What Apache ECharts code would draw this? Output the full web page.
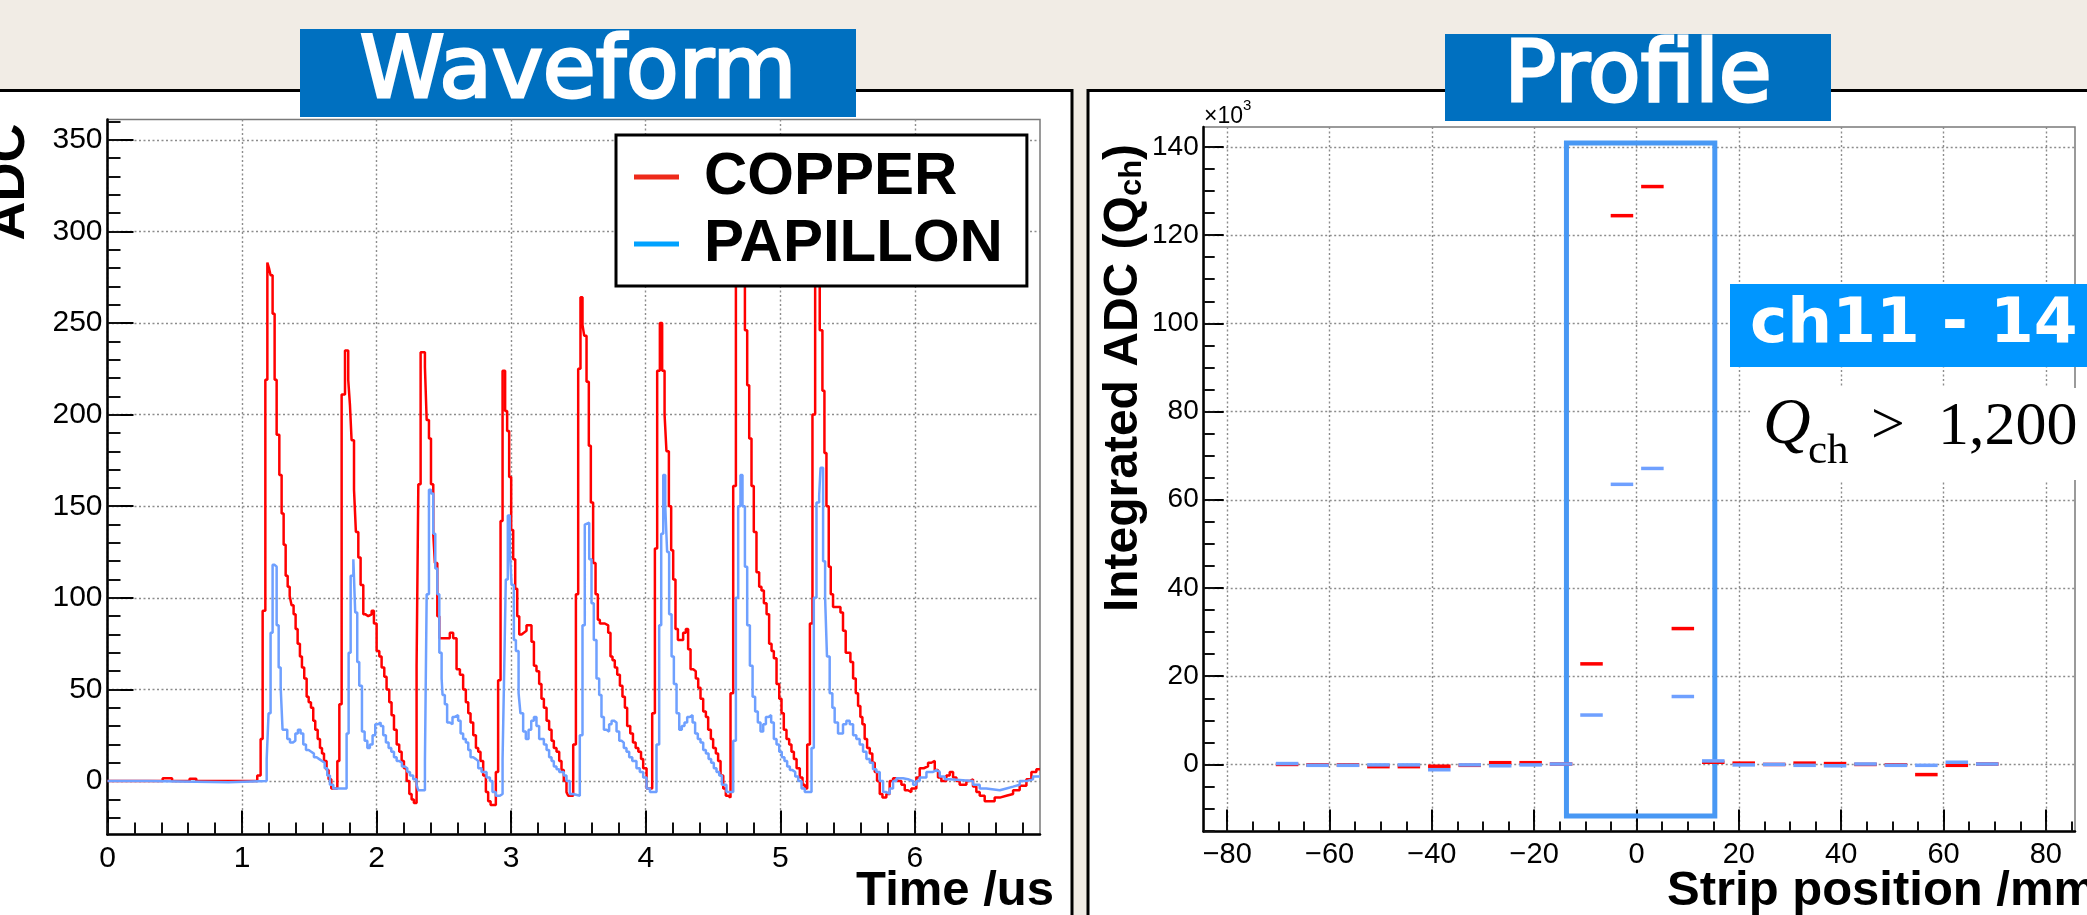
<!DOCTYPE html>
<html>
<head>
<meta charset="utf-8">
<title>Waveform / Profile</title>
<script src="https://cdn.jsdelivr.net/npm/echarts@6/dist/echarts.min.js"></script>
<style>
  html, body { margin: 0; padding: 0; background: #f1ece5; }
  #main { width: 2087px; height: 915px; }
</style>
</head>
<body>
<div id="main"></div>
<script>
// ---- Waveform: start time (us) of each step and its ADC value ----
var copperT = [0, 0.41, 0.48, 0.61, 0.66,
  1.113, 1.138, 1.153, 1.173, 1.188, 1.200, 1.212, 1.227, 1.242, 1.257, 1.277, 1.294, 1.309, 1.324, 1.339, 1.354, 1.368, 1.383, 1.398, 1.413, 1.430, 1.445, 1.462, 1.480, 1.495, 1.512, 1.529, 1.544, 1.562, 1.579, 1.594, 1.609, 1.628, 1.643, 1.663,
  1.708, 1.723, 1.740, 1.765, 1.789, 1.802, 1.814, 1.832, 1.846, 1.864, 1.881, 1.901, 1.918, 1.938, 1.963, 1.980, 2.000, 2.020, 2.037, 2.057, 2.074, 2.094, 2.111, 2.129, 2.149, 2.168, 2.186, 2.203, 2.223, 2.243, 2.260, 2.277,
  2.297, 2.310, 2.327, 2.359, 2.372, 2.389, 2.404, 2.421, 2.433, 2.451, 2.466, 2.544, 2.569, 2.594, 2.619, 2.643, 2.663, 2.681, 2.698, 2.718, 2.738, 2.755, 2.772, 2.792, 2.812, 2.829, 2.847,
  2.886, 2.903, 2.921, 2.936, 2.955, 2.970, 2.985, 3.000, 3.015, 3.030, 3.045, 3.060, 3.077, 3.094, 3.114, 3.151, 3.169, 3.188, 3.208, 3.225, 3.243, 3.263, 3.282, 3.300, 3.317, 3.337, 3.357, 3.374, 3.391, 3.411, 3.424,
  3.461, 3.481, 3.498, 3.515, 3.530, 3.543, 3.560, 3.577, 3.592, 3.609, 3.627, 3.644, 3.659, 3.696, 3.721, 3.738, 3.753, 3.770, 3.788, 3.808, 3.827, 3.845, 3.862, 3.885, 3.905, 3.925, 3.945, 3.965, 3.981, 4.006,
  4.048, 4.068, 4.085, 4.105, 4.122, 4.140, 4.154, 4.172, 4.189, 4.204, 4.221, 4.239, 4.278, 4.298, 4.315, 4.333, 4.353, 4.372, 4.390, 4.407, 4.427, 4.447, 4.464, 4.484, 4.501, 4.521, 4.538, 4.556, 4.576, 4.595, 4.613,
  4.630, 4.650, 4.670, 4.687, 4.704, 4.719, 4.737, 4.754, 4.769, 4.786, 4.803, 4.823, 4.843, 4.860, 4.878, 4.898, 4.917, 4.935, 4.952, 4.972, 4.992, 5.009, 5.026, 5.046, 5.066, 5.083, 5.101, 5.121, 5.145, 5.165, 5.182,
  5.200, 5.220, 5.239, 5.259, 5.277, 5.293, 5.313, 5.328, 5.343, 5.360, 5.375, 5.392, 5.447, 5.466, 5.486, 5.521, 5.541, 5.561, 5.578, 5.595, 5.610, 5.627, 5.645, 5.665, 5.684, 5.702, 5.719, 5.739, 5.759, 5.788,
  5.813, 5.838, 5.868, 5.900, 5.925, 5.949, 5.974, 6.011, 6.036, 6.066, 6.098, 6.123, 6.148, 6.172, 6.197, 6.234, 6.259, 6.284, 6.309, 6.333, 6.383, 6.408, 6.432, 6.457, 6.482, 6.519, 6.593, 6.631, 6.680, 6.730, 6.779, 6.829, 6.866, 6.903, 6.93];
var copperV = [0, 1.5, 0, 1.3, 0,
  3, 23, 93, 219, 283, 280, 276, 255, 219, 189, 167, 146, 129, 112, 106, 101, 96, 91, 83, 75, 68, 62, 56, 46, 43, 40, 33, 28, 23, 18, 15, 11, 6, 1, -4,
  11, 42, 211, 235, 219, 205, 186, 159, 136, 122, 107, 91, 90, 91, 93, 86, 71, 68, 62, 57, 50, 43, 36, 28, 20, 16, 11, 7, 0, -7, -10, -12,
  63, 162, 234, 226, 197, 187, 162, 135, 119, 90, 78, 81, 78, 61, 58, 50, 43, 37, 32, 25, 18, 16, 11, 3, -6, -11, -13,
  5, 55, 142, 224, 202, 191, 166, 137, 121, 105, 90, 80, 81, 82, 85, 76, 63, 60, 53, 45, 40, 33, 28, 22, 18, 16, 11, 6, 0, -6, -8,
  20, 102, 225, 264, 249, 243, 218, 183, 152, 119, 102, 88, 86, 85, 81, 68, 66, 62, 58, 52, 46, 40, 30, 26, 21, 18, 16, 12, 7, -4,
  37, 127, 224, 250, 224, 200, 180, 150, 126, 110, 83, 77, 81, 83, 72, 61, 60, 56, 51, 45, 38, 35, 28, 23, 18, 15, 11, 3, -4, -8, -9,
  48, 161, 285, 302, 296, 278, 246, 216, 187, 161, 136, 114, 106, 104, 97, 91, 75, 71, 67, 53, 45, 37, 28, 23, 20, 16, 12, 7, 2, -2, -4,
  20, 86, 200, 290, 282, 246, 213, 179, 150, 117, 102, 95, 92, 82, 70, 65, 56, 48, 41, 35, 31, 23, 18, 15, 10, 5, 0, -7, -9, -7,
  0, 1.5, 0, -2, -5, -6, -4, 2, 7, 8, 10, 11, 6, 2, 0, 3, 5, 2, 0, -2, 0, 1, -3, -6, -8, -11, -9, -8, -7, -5, -2.5, 1, 5, 6.5, 6.5];

var papillonT = [0, 0.3, 0.9,
  1.183, 1.197, 1.212, 1.227, 1.242, 1.257, 1.272, 1.287, 1.301, 1.336, 1.356, 1.376, 1.396, 1.415, 1.435, 1.455, 1.475, 1.495, 1.514, 1.534, 1.554, 1.574, 1.594, 1.614, 1.633, 1.653, 1.678,
  1.777, 1.792, 1.807, 1.827, 1.841, 1.856, 1.871, 1.891, 1.911, 1.931, 1.950, 1.970, 1.990, 2.010, 2.030, 2.049, 2.069, 2.089, 2.109, 2.129, 2.149, 2.168, 2.188, 2.208, 2.228, 2.248, 2.272, 2.297, 2.310,
  2.359, 2.372, 2.389, 2.404, 2.421, 2.436, 2.451, 2.466, 2.483, 2.490, 2.507, 2.524, 2.544, 2.564, 2.581, 2.606, 2.624, 2.643, 2.663, 2.681, 2.698, 2.718, 2.738, 2.755, 2.780, 2.817, 2.842, 2.861, 2.886, 2.916,
  2.936, 2.946, 2.960, 2.975, 2.990, 3.003, 3.020, 3.035, 3.055, 3.069, 3.089, 3.109, 3.129, 3.149, 3.169, 3.188, 3.208, 3.243, 3.263, 3.282, 3.300, 3.317, 3.337, 3.357, 3.391, 3.411, 3.436, 3.461,
  3.510, 3.530, 3.547, 3.560, 3.580, 3.597, 3.614, 3.634, 3.654, 3.671, 3.689, 3.709, 3.728, 3.746, 3.763, 3.783, 3.803, 3.820, 3.837, 3.857, 3.877, 3.900, 3.931, 3.956, 3.981, 4.006, 4.031,
  4.080, 4.100, 4.115, 4.130, 4.145, 4.159, 4.174, 4.192, 4.209, 4.229, 4.249, 4.268, 4.288, 4.308, 4.328, 4.348, 4.367, 4.387, 4.407, 4.427, 4.447, 4.467, 4.486, 4.506, 4.526, 4.546, 4.566, 4.600,
  4.650, 4.670, 4.687, 4.704, 4.719, 4.737, 4.754, 4.774, 4.794, 4.813, 4.833, 4.853, 4.873, 4.893, 4.912, 4.932, 4.952, 4.972, 4.992, 5.011, 5.031, 5.051, 5.071, 5.091, 5.111, 5.133, 5.158, 5.182,
  5.232, 5.249, 5.269, 5.289, 5.299, 5.318, 5.333, 5.347, 5.367, 5.387, 5.404, 5.429, 5.466, 5.491, 5.516, 5.541, 5.565, 5.590, 5.615, 5.640, 5.665, 5.689, 5.714, 5.739, 5.764, 5.788, 5.813,
  5.838, 5.863, 5.912, 5.949, 5.987, 6.011, 6.036, 6.086, 6.135, 6.160, 6.185, 6.222, 6.259, 6.432, 6.482, 6.531, 6.631, 6.680, 6.730, 6.779, 6.829, 6.878, 6.93];
var papillonV = [0, -0.6, 0,
  12, 37, 81, 118, 117, 85, 62, 51, 28, 23, 21, 22, 26, 28, 26, 20, 17, 16, 15, 13, 12, 11, 10, 7, 3, -2, -4,
  26, 70, 112, 121, 92, 65, 52, 27, 22, 18, 20, 25, 31, 32, 30, 25, 21, 18, 16, 13, 11, 10, 8, 7, 5, 3, 1, -2, -5,
  11, 102, 159, 157, 135, 116, 102, 70, 56, 47, 42, 32, 31, 35, 36, 33, 26, 23, 21, 17, 13, 12, 11, 7, 5, 2, 0, -6, -8, -7,
  12, 52, 110, 145, 126, 107, 77, 71, 48, 37, 27, 23, 28, 33, 35, 30, 23, 20, 17, 13, 11, 8, 6.5, 5, 3, 0, -7, -8,
  25, 85, 140, 141, 121, 97, 77, 56, 47, 35, 28, 27, 31, 33, 32, 27, 22, 21, 18, 16, 13, 11, 7, 5, 2, -4, -6,
  20, 85, 135, 167, 150, 125, 91, 68, 53, 37, 28, 30, 32, 35, 36, 32, 26, 23, 21, 17, 15, 12, 10, 7, 5, 3, -2, -6,
  22, 100, 150, 167, 150, 117, 85, 63, 46, 38, 32, 27, 31, 35, 36, 32, 23, 20, 16, 13, 11, 8, 6, 5, 2.5, 0, -4, -6,
  18, 100, 152, 156, 171, 120, 100, 68, 48, 40, 32, 26, 31, 33, 31, 25, 23, 20, 16, 12, 10, 6.5, 5, 0, -6, -7, -4,
  0, 1.5, 1, 0, -2, 0, 2, 5, 6, 5, 2.5, 1, 0, -2, -4, -5, -4, -3, -2, 0, 1, 2.5, 2.5];

// ---- Profile: strip centre (mm) and integrated ADC (x10^3) ----
var stripPos = [-68.3, -62.35, -56.4, -50.45, -44.5, -38.55, -32.6, -26.65, -20.7, -14.75, -8.8, -2.85,
  3.1, 9.05, 15.0, 20.95, 26.9, 32.85, 38.8, 44.75, 50.7, 56.65, 62.6, 68.55];
var copperQ = [0, -0.1, -0.1, -0.5, -0.5, -0.4, -0.2, 0.4, 0.4, 0.1, 22.8, 124.4,
  131.0, 30.8, 0.5, 0.3, 0, 0.3, 0.2, 0, -0.1, -2.3, -0.2, 0.1];
var papillonQ = [0.2, -0.2, -0.2, -0.1, -0.1, -1.2, -0.1, -0.3, -0.1, 0.1, 11.2, 63.5,
  67.1, 15.4, 0.8, -0.1, 0, -0.2, -0.3, 0.1, -0.2, -0.2, 0.5, 0.1];
// selected channels ch11-14 (box corners, mm / x10^3)
var selX = [-13.7, 15.3];
var selY = [-11.7, 140.9];

// tick labels
var timeTicks = [0, 1, 2, 3, 4, 5, 6];
var adcTicks = [0, 50, 100, 150, 200, 250, 300, 350];
var stripTicks = [-80, -60, -40, -20, 0, 20, 40, 60, 80];
var qTicks = [0, 20, 40, 60, 80, 100, 120, 140];

function steps(a, b, d) {
  var out = [];
  for (var i = 0; a + i * d <= b + 1e-9; i++) out.push(+(a + i * d).toFixed(3));
  return out;
}
function pairs(xs, ys) {
  return xs.map(function (x, i) { return [x, ys[i]]; });
}

var FONT = "'Liberation Sans', Arial, sans-serif";
var SERIF = "'Liberation Serif', 'Times New Roman', serif";
var fmt = function (v) { return v < 0 ? '\u2212' + Math.abs(v) : String(v); };

function mainAxis(grid, pos, min, max, major, tickLen, margin, labelSize) {
  return {
    type: 'value', gridIndex: grid, position: pos, min: min, max: max,
    axisLine: { show: true, onZero: false, lineStyle: { color: '#000', width: 2.5 } },
    axisTick: { inside: true, length: tickLen, customValues: major, lineStyle: { color: '#000', width: 2 } },
    axisLabel: { customValues: major, formatter: fmt, color: '#000', fontSize: labelSize, fontFamily: FONT, margin: margin },
    splitLine: { show: true, lineStyle: { color: '#8c8c8c', width: 1.4, type: [2, 2.5] } }
  };
}
function minorAxis(grid, pos, min, max, minor, tickLen) {
  return {
    type: 'value', gridIndex: grid, position: pos, min: min, max: max,
    axisLine: { show: false, onZero: false },
    axisTick: { inside: true, length: tickLen, customValues: minor, lineStyle: { color: '#111', width: 2 } },
    axisLabel: { show: false },
    splitLine: { show: false }
  };
}

var DASH_HALF = 2.2;
function dash(params, api) {
  var x = api.value(0), y = api.value(1);
  var a = api.coord([x - DASH_HALF, y]);
  var b = api.coord([x + DASH_HALF, y]);
  return {
    type: 'line',
    shape: { x1: a[0], y1: a[1], x2: b[0], y2: b[1] },
    style: { stroke: api.visual('color'), lineWidth: 3.5 }
  };
}

function txt(x, y, text, size, opts) {
  var o = opts || {};
  return {
    type: 'text', x: x, y: y, rotation: o.rotation || 0, z: o.z || 61,
    style: {
      text: text, fill: o.color || '#000', fontSize: size,
      fontFamily: o.family || FONT, fontWeight: o.weight || 'normal', fontStyle: o.style || 'normal',
      align: o.align || 'left', verticalAlign: o.valign || 'middle',
      stroke: o.stroke, lineWidth: o.lineWidth || 0, rich: o.rich
    }
  };
}

var chart = echarts.init(document.getElementById('main'));
var option = {
  backgroundColor: '#f1ece5',
  animation: false,
  grid: [
    { left: 107.5, top: 119.6, width: 932.5, height: 715, show: true, borderColor: '#7a7a7a', borderWidth: 1.5 },
    { left: 1203.7, top: 127, width: 871.3, height: 704.5, show: true, borderColor: '#7a7a7a', borderWidth: 1.5 }
  ],
  xAxis: [
    mainAxis(0, 'bottom', 0, 6.93, timeTicks, 24, 9, 30),
    minorAxis(0, 'bottom', 0, 6.93, steps(0, 6.8, 0.2), 12),
    mainAxis(1, 'bottom', -84.6, 85.7, stripTicks, 22, 9, 29),
    minorAxis(1, 'bottom', -84.6, 85.7, steps(-80, 85, 5), 10)
  ],
  yAxis: [
    mainAxis(0, 'left', -29.2, 361, adcTicks, 26, 5, 30),
    minorAxis(0, 'left', -29.2, 361, steps(-20, 360, 10), 13),
    mainAxis(1, 'left', -15.2, 144.5, qTicks, 20, 5, 28),
    minorAxis(1, 'left', -15.2, 144.5, steps(-15, 140, 5), 11)
  ],
  legend: {
    data: [
      { name: 'COPPER', icon: 'rect', itemStyle: { color: '#ee2a1a' } },
      { name: 'PAPILLON', icon: 'rect', itemStyle: { color: '#00a2ff' } }
    ],
    orient: 'vertical', left: 616, top: 135,
    padding: [12, 24, 12, 18], itemGap: 7, itemWidth: 45, itemHeight: 5,
    backgroundColor: '#fff', borderColor: '#000', borderWidth: 3,
    selectedMode: false,
    textStyle: { fontSize: 60, fontWeight: 'bold', fontFamily: FONT, color: '#000', padding: [0, 0, 0, 20] }
  },
  series: [
    {
      name: 'COPPER', type: 'line', step: 'end', xAxisIndex: 0, yAxisIndex: 0,
      data: pairs(copperT, copperV), showSymbol: false, symbol: 'none',
      lineStyle: { color: '#ff0000', width: 2.5 }, itemStyle: { color: '#ff0000' }
    },
    {
      name: 'PAPILLON', type: 'line', step: 'end', xAxisIndex: 0, yAxisIndex: 0,
      data: pairs(papillonT, papillonV), showSymbol: false, symbol: 'none',
      lineStyle: { color: '#6fa0ff', width: 2.5 }, itemStyle: { color: '#6fa0ff' }
    },
    {
      name: 'COPPER profile', type: 'custom', xAxisIndex: 2, yAxisIndex: 2,
      renderItem: dash, data: pairs(stripPos, copperQ), itemStyle: { color: '#ff0000' }
    },
    {
      name: 'PAPILLON profile', type: 'custom', xAxisIndex: 2, yAxisIndex: 2,
      renderItem: dash, data: pairs(stripPos, papillonQ), itemStyle: { color: '#6fa0ff' },
      markArea: {
        silent: true,
        itemStyle: { color: 'rgba(0,0,0,0)', borderColor: '#4898f4', borderWidth: 5 },
        data: [[{ coord: [selX[0], selY[0]] }, { coord: [selX[1], selY[1]] }]]
      }
    }
  ],
  graphic: { elements: [
    // white panels
    { type: 'rect', z: -10, shape: { x: -10, y: 90.5, width: 1082, height: 840 }, style: { fill: '#fff', stroke: '#000', lineWidth: 3 } },
    { type: 'rect', z: -10, shape: { x: 1088, y: 90.5, width: 1010, height: 840 }, style: { fill: '#fff', stroke: '#000', lineWidth: 3 } },
    // titles
    { type: 'rect', z: 60, shape: { x: 300, y: 29, width: 556, height: 88 }, style: { fill: '#0070c0' } },
    txt(578, 75, 'Waveform', 86, { color: '#fff', family: "'DejaVu Sans', sans-serif", align: 'center', stroke: '#fff', lineWidth: 3 }),
    { type: 'rect', z: 60, shape: { x: 1445, y: 34, width: 386, height: 87 }, style: { fill: '#0070c0' } },
    txt(1638, 79, 'Profile', 86, { color: '#fff', family: "'DejaVu Sans', sans-serif", align: 'center', stroke: '#fff', lineWidth: 3 }),
    // axis titles
    txt(36, 182, 'ADC', 54, { weight: 'bold', align: 'center', valign: 'bottom', rotation: Math.PI / 2 }),
    txt(1054, 891, 'Time /us', 49, { weight: 'bold', align: 'right' }),
    txt(1667, 891, 'Strip position /mm', 49, { weight: 'bold' }),
    txt(1148, 378, '{a|Integrated ADC (Q}{b|ch}{a|)}', 48, {
      align: 'center', valign: 'bottom', rotation: Math.PI / 2,
      rich: {
        a: { fontSize: 48, fontWeight: 'bold', fontFamily: FONT, fill: '#000' },
        b: { fontSize: 31, fontWeight: 'bold', fontFamily: FONT, fill: '#000', verticalAlign: 'bottom', lineHeight: 22 }
      }
    }),
    txt(1204, 117, '\u00d710', 23),
    txt(1243, 106, '3', 15),
    // channel selection note
    { type: 'rect', z: 60, shape: { x: 1730, y: 284, width: 370, height: 83 }, style: { fill: '#0096ff' } },
    txt(1750, 326, 'ch11 - 14', 63, { color: '#fff', weight: 'bold', family: "'DejaVu Sans', sans-serif" }),
    { type: 'rect', z: 60, shape: { x: 1750, y: 388, width: 340, height: 92 }, style: { fill: '#fff' } },
    txt(1763, 426, 'Q', 66, { family: SERIF, style: 'italic' }),
    txt(1808, 452, 'ch', 43, { family: SERIF }),
    txt(1871, 427, '>', 60, { family: SERIF }),
    txt(1938, 428, '1,200', 62, { family: SERIF })
  ] }
};
chart.setOption(option);
</script>
</body>
</html>
